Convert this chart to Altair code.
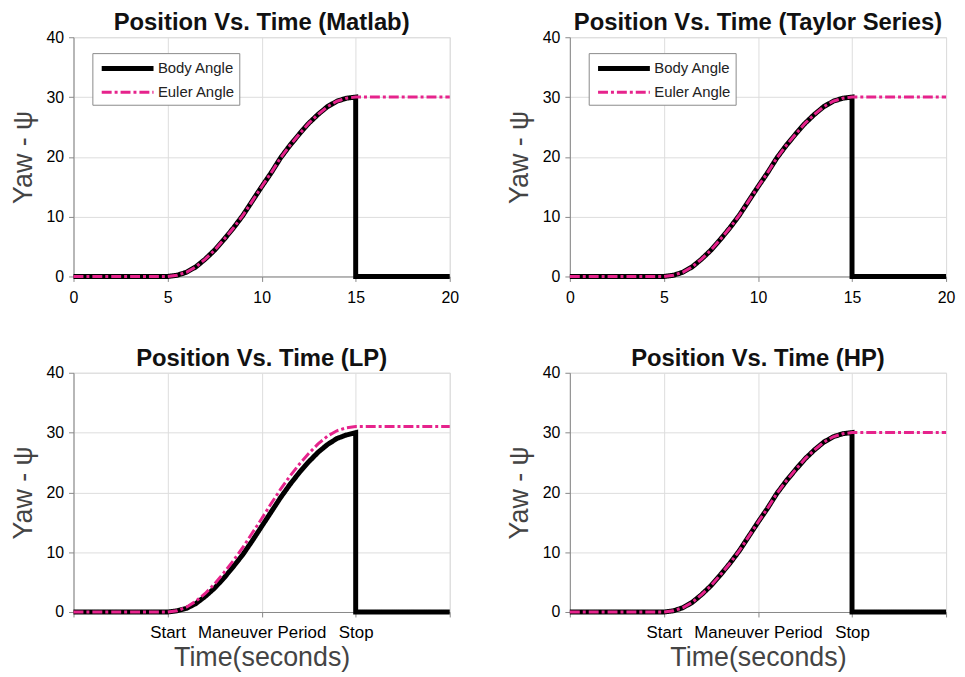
import altair as alt
import pandas as pd

# ---- data ----
ramp_t = [5.0, 5.5, 6.0, 6.5, 7.0, 7.5, 8.0, 8.5, 9.0, 9.5, 10.0, 10.5,
          11.0, 11.5, 12.0, 12.5, 13.0, 13.5, 14.0, 14.5, 15.0]
matlab_body = [0.0, 0.2, 0.7, 1.6, 2.9, 4.4, 6.2, 8.1, 10.2, 12.6, 15.0, 17.3,
               19.8, 21.9, 23.8, 25.6, 27.1, 28.4, 29.3, 29.8, 30.0]
matlab_euler = [0.0, 0.2, 0.7, 1.6, 2.9, 4.4, 6.2, 8.1, 10.2, 12.6, 15.0, 17.3,
                19.8, 21.9, 23.8, 25.6, 27.1, 28.4, 29.3, 29.8, 30.0]
taylor_body = [0.0, 0.2, 0.7, 1.6, 2.9, 4.4, 6.2, 8.1, 10.2, 12.6, 15.0, 17.3,
               19.8, 21.9, 23.8, 25.6, 27.1, 28.4, 29.3, 29.8, 30.0]
taylor_euler = [0.0, 0.2, 0.7, 1.6, 2.9, 4.4, 6.2, 8.1, 10.2, 12.6, 15.0, 17.3,
                19.8, 21.9, 23.8, 25.6, 27.1, 28.4, 29.3, 29.8, 30.0]
lp_body = [0.0, 0.2, 0.6, 1.4, 2.6, 4.0, 5.7, 7.6, 9.6, 11.9, 14.3, 16.7,
           19.1, 21.3, 23.3, 25.1, 26.7, 28.0, 29.0, 29.6, 30.0]
lp_euler = [0.0, 0.2, 0.8, 1.8, 3.1, 4.7, 6.6, 8.6, 10.8, 13.2, 15.6, 18.1,
            20.5, 22.7, 24.7, 26.5, 28.1, 29.4, 30.3, 30.8, 31.0]
hp_body = [0.0, 0.2, 0.7, 1.6, 2.9, 4.4, 6.2, 8.1, 10.2, 12.6, 15.0, 17.3,
           19.8, 21.9, 23.8, 25.6, 27.1, 28.4, 29.3, 29.8, 30.0]
hp_euler = [0.0, 0.2, 0.7, 1.6, 2.9, 4.4, 6.2, 8.1, 10.2, 12.6, 15.0, 17.3,
            19.8, 21.9, 23.8, 25.6, 27.1, 28.4, 29.3, 29.8, 30.0]

t_start = 0.0
t_stop = 15.0
t_end = 20.0

series_names = ["Body Angle", "Euler Angle"]
panel_titles = ["Position Vs. Time (Matlab)", "Position Vs. Time (Taylor Series)",
                "Position Vs. Time (LP)", "Position Vs. Time (HP)"]
x_tick_values = [0, 5, 10, 15, 20]
y_tick_values = [0, 10, 20, 30, 40]
phase_ticks = [5, 10, 15]
phase_labels = ["Start", "Maneuver Period", "Stop"]

MAGENTA = "#e6238c"


def build_df(body, euler):
    rows = []
    pts = [(t_start, 0.0)] + list(zip(ramp_t, body)) + [(t_stop, 0.0), (t_end, 0.0)]
    for i, (t, v) in enumerate(pts):
        rows.append({"series": series_names[0], "t": t, "y": v, "ord": i})
    pts = [(t_start, 0.0)] + list(zip(ramp_t, euler)) + [(t_end, euler[-1])]
    for i, (t, v) in enumerate(pts):
        rows.append({"series": series_names[1], "t": t, "y": v, "ord": i})
    return pd.DataFrame(rows)


label_expr = " : ".join(
    [f"datum.value == {v} ? '{l}'" for v, l in zip(phase_ticks, phase_labels)]
) + " : ''"

W, H = 379, 241


def panel(df, title, top):
    color_scale = alt.Scale(domain=series_names, range=["black", MAGENTA])
    dash_scale = alt.Scale(domain=series_names, range=[[1, 0], [10, 3, 3, 3]])
    width_scale = alt.Scale(domain=series_names, range=[5, 3])
    if top:
        leg = alt.Legend(
            orient="none", legendX=19, legendY=16, title=None,
            symbolType="M-2.9,0H2.9", symbolSize=324, labelFontSize=15,
            labelColor="#222222", labelFont="Liberation Sans",
            strokeColor="#8a8a8a", fillColor="white", padding=4,
            rowPadding=3, symbolOffset=20, labelOffset=19,
        )
        xaxis = alt.Axis(values=x_tick_values, title=None, labelFlush=False,
                         labelFontSize=16, labelPadding=8)
    else:
        leg = None
        xaxis = alt.Axis(values=x_tick_values, title="Time(seconds)",
                         labelExpr=label_expr, labelFlush=False,
                         labelOverlap=False, labelFontSize=17, labelPadding=8,
                         titleFontSize=27, titlePadding=4, titleColor="#444444",
                         titleFontWeight="normal")
    enc = dict(
        x=alt.X("t:Q", scale=alt.Scale(domain=[0, 20], nice=False), axis=xaxis),
        y=alt.Y("y:Q", scale=alt.Scale(domain=[0, 40], nice=False),
                axis=alt.Axis(values=y_tick_values, title="Yaw - ψ",
                              labelFlush=False, labelFontSize=16,
                              labelPadding=5, titleFontSize=27,
                              titlePadding=9, titleColor="#444444",
                              titleFontWeight="normal")),
        color=alt.Color("series:N", scale=color_scale, legend=leg),
        strokeDash=alt.StrokeDash("series:N", scale=dash_scale, legend=leg),
        strokeWidth=alt.StrokeWidth("series:N", scale=width_scale, legend=leg),
        order=alt.Order("ord:Q"),
    )
    body = alt.Chart(df).transform_filter(
        alt.datum.series == series_names[0]).mark_line(strokeJoin="miter", strokeCap="butt").encode(**enc)
    euler = alt.Chart(df).transform_filter(
        alt.datum.series == series_names[1]).mark_line(strokeCap="butt").encode(**enc)
    return alt.layer(body, euler).properties(
        width=W, height=H,
        title=alt.TitleParams(title, fontSize=24, fontWeight="bold",
                              font="Liberation Sans", color="#111111", offset=-6),
    )


p1 = panel(build_df(matlab_body, matlab_euler), panel_titles[0], True)
p2 = panel(build_df(taylor_body, taylor_euler), panel_titles[1], True)
p3 = panel(build_df(lp_body, lp_euler), panel_titles[2], False)
p4 = panel(build_df(hp_body, hp_euler), panel_titles[3], False)

indep = dict(color="independent", strokeDash="independent", strokeWidth="independent")
top_row = alt.hconcat(p1, p2, spacing=44).resolve_scale(**indep).resolve_legend(**indep)
bot_row = alt.hconcat(p3, p4, spacing=44).resolve_scale(**indep)

chart = alt.vconcat(top_row, bot_row, spacing=40).resolve_scale(**indep).resolve_legend(**indep).properties(
    padding={"left": 0, "top": 0, "right": 0, "bottom": 0}
).configure_view(
    stroke="#9a9a9a", strokeWidth=1
).configure_axis(
    labelFont="Liberation Sans", titleFont="Liberation Sans",
    labelColor="#5a5a5a", gridColor="#e2e2e2", gridWidth=1,
    domainColor="#9a9a9a", tickColor="#9a9a9a", tickSize=0,
).configure(background="white")

chart.save("out.html", embed_options={"renderer": "svg", "actions": False})
